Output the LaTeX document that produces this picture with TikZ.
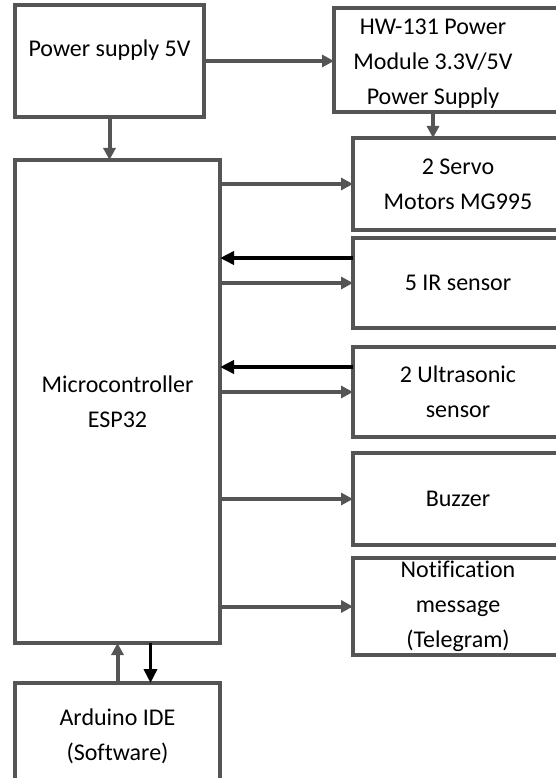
\documentclass[tikz,border=0pt]{standalone}
\usepackage{fontspec}
\setmainfont{Carlito}[Ligatures=NoCommon]
\usepackage{tikz}
\usetikzlibrary{arrows.meta,positioning}
\definecolor{frameGray}{RGB}{85,85,85}

\begin{document}
\begin{tikzpicture}[x=1pt, y=1pt, node distance=10pt]
    \tikzstyle{block} = [rectangle, draw=frameGray, line width=4pt, inner sep=0pt, outer sep=0pt, align=center, font=\fontsize{24}{35}\selectfont]
    \tikzstyle{side} = [block, minimum width=210pt]
    \tikzstyle{txt} = [align=center, inner sep=0pt, font=\fontsize{24}{35}\selectfont]
    \tikzstyle{line} = [draw, frameGray, line width=4pt, -{Triangle[length=12pt,width=12pt]}]
    \tikzstyle{sig} = [draw, black, line width=3.5pt, -{Triangle[length=14pt,width=13pt]}]

    \useasboundingbox (0,0) rectangle (556,-778);

    % left column
    \node [block, anchor=north west, minimum width=189pt, minimum height=112pt, text height=12pt, text depth=20pt] (psu) at (15,-5) {Power supply 5V};
    \node [block, anchor=north west, minimum width=205pt, minimum height=483pt] (esp) at (15,-160) {Microcontroller\\ESP32};
    \node [block, below=40pt of esp, minimum width=205pt, minimum height=107pt] (ard) {Arduino IDE\\(Software)};

    % right column
    \node [block, anchor=north west, minimum width=240pt, minimum height=104pt] (hw) at (334,-8) {};
    \node [txt] (hwtext) at (433,-64) {HW-131 Power\\Module 3.3V/5V\\Power Supply};
    \node [side, anchor=north west, minimum height=92pt] (servo) at (353,-138) {2 Servo\\Motors MG995};
    \node [side, below=8pt of servo, minimum height=90pt] (ir) {5 IR sensor};
    \node [side, below=19pt of ir, minimum height=90pt] (us) {2 Ultrasonic\\sensor};
    \node [side, below=16pt of us, minimum height=92pt] (buzz) {Buzzer};
    \node [side, below=13pt of buzz, minimum height=97pt] (notif) {Notification\\message\\(Telegram)};

    % power
    \path [line] (psu.east) -- (psu.east -| hw.west);
    \path [line] (psu.south) -- (psu.south |- esp.north);
    \path [line] (hwtext |- hw.south) -- (hwtext |- servo.north);

    % outputs
    \path [line] (servo.west -| esp.east) -- (servo.west);
    \path [line] (ir.west -| esp.east) -- (ir.west);
    \path [line] (us.west -| esp.east) -- (us.west);
    \path [line] (buzz.west -| esp.east) -- (buzz.west);
    \path [line] (notif.west -| esp.east) -- (notif.west);

    % sensor inputs
    \path [sig] ([yshift=25pt]ir.west) -- ([yshift=25pt]ir.west -| esp.east);
    \path [sig] ([yshift=25pt]us.west) -- ([yshift=25pt]us.west -| esp.east);

    % programming link
    \path [line] (ard.north) -- (ard.north |- esp.south);
    \path [sig] ([xshift=33pt]esp.south) -- ([xshift=33pt]esp.south |- ard.north);
\end{tikzpicture}
\end{document}
